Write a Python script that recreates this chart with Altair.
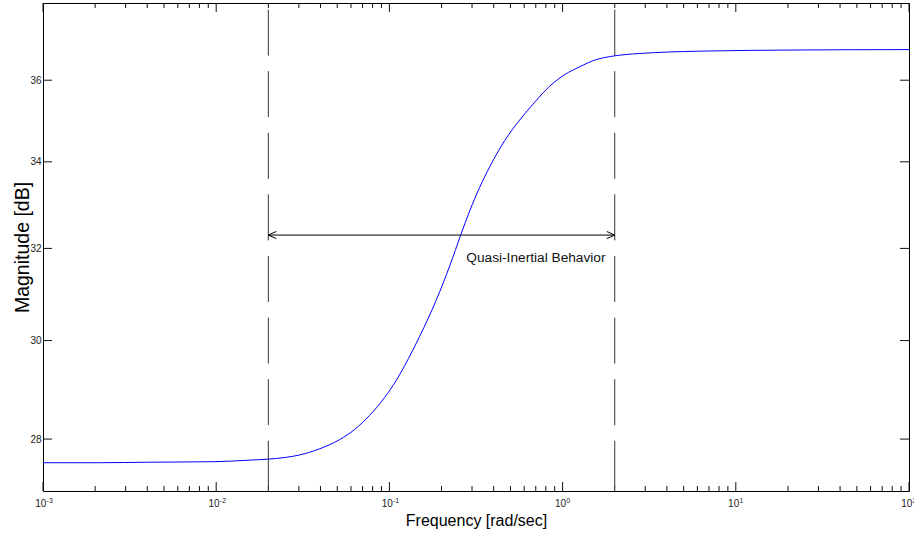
import altair as alt
import pandas as pd

# ---- data ----
freq = [0.001, 0.002125, 0.00413, 0.0098, 0.01561, 0.02009, 0.02486, 0.03034, 0.03959, 0.05164,
        0.06305, 0.07695, 0.09395, 0.1098, 0.1226, 0.1496, 0.1868, 0.2230, 0.2580, 0.2908,
        0.3322, 0.3794, 0.4632, 0.5653, 0.6901, 0.8424, 1.028, 1.255, 1.532, 1.870,
        2.283, 2.787, 6.188, 23.38, 100.0]
mag = [27.54, 27.54, 27.55, 27.56, 27.59, 27.61, 27.64, 27.69, 27.81, 27.99,
       28.19, 28.47, 28.83, 29.18, 29.48, 30.09, 30.87, 31.61, 32.30, 32.85,
       33.40, 33.88, 34.51, 35.01, 35.45, 35.85, 36.14, 36.34, 36.51, 36.60,
       36.65, 36.68, 36.74, 36.77, 36.78]

x_ticks = [0.001, 0.01, 0.1, 1, 10, 100]
x_tick_base = ["10", "10", "10", "10", "10", "10"]
x_tick_exp = ["-3", "-2", "-1", "0", "1", "2"]
x_minor = [m * 10.0 ** k for k in range(-3, 2) for m in range(2, 10)]
y_ticks = [28, 30, 32, 34, 36]

band = [0.02, 2.0]
band_level = 32.30
note = "Quasi-Inertial Behavior"
note_x = 0.278
note_y = 31.70

W, H = 866, 488
FONT = "Liberation Sans"

xs = alt.Scale(type="log", domain=[1e-3, 1e2], nice=False)
ys = alt.Scale(type="log", domain=[27, 38], nice=False)

x_axis = alt.Axis(
    labels=False, ticks=False, tickSize=0, domain=False, grid=False,
    title="Frequency [rad/sec]", titleFont=FONT, titleFontSize=16, titleFontWeight="normal",
    titleColor="#000", titleY=34.5, titleBaseline="alphabetic")
y_axis = alt.Axis(
    values=y_ticks, ticks=False, tickSize=0, domain=False, grid=False,
    labelFont=FONT, labelFontSize=10, labelColor="#222", labelPadding=2,
    title="Magnitude [dB]", titleFont=FONT, titleFontSize=19.5, titleFontWeight="normal",
    titleColor="#000", titleX=-15, titleY=H / 2, titleAngle=270, titleBaseline="alphabetic")


def X(field):
    return alt.X(field, scale=xs, axis=x_axis)


def Y(field):
    return alt.Y(field, scale=ys, axis=y_axis)


curve = alt.Chart(pd.DataFrame({"f": freq, "m": mag})).mark_line(
    color="#0000ff", strokeWidth=1, interpolate="monotone"
).encode(x=X("f:Q"), y=Y("m:Q"))

vlines = alt.Chart(pd.DataFrame({"f": band})).mark_rule(
    color="#333", strokeWidth=1, strokeDash=[46, 15.6], strokeDashOffset=55
).encode(x=X("f:Q"), y=alt.value(0), y2=alt.value(H))

arrow = alt.Chart(pd.DataFrame({"f": [band[0]], "b": [band[1]], "m": [band_level]})).mark_rule(
    color="black", strokeWidth=1
).encode(x=X("f:Q"), x2="b:Q", y=Y("m:Q"))

head_l = alt.Chart(pd.DataFrame({"f": [band[0]], "m": [band_level]})).mark_point(
    shape="M 1 -0.45 L 0 0 L 1 0.45", size=256, filled=False, stroke="black", strokeWidth=1, opacity=1
).encode(x=X("f:Q"), y=Y("m:Q"))

head_r = alt.Chart(pd.DataFrame({"f": [band[1]], "m": [band_level]})).mark_point(
    shape="M -1 -0.45 L 0 0 L -1 0.45", size=256, filled=False, stroke="black", strokeWidth=1, opacity=1
).encode(x=X("f:Q"), y=Y("m:Q"))

text = alt.Chart(pd.DataFrame({"f": [note_x], "m": [note_y], "t": [note]})).mark_text(
    align="left", baseline="alphabetic", font=FONT, fontSize=13.7, color="#111"
).encode(x=X("f:Q"), y=Y("m:Q"), text="t:N")

lab_df = pd.DataFrame({"f": x_ticks, "b": x_tick_base, "e": x_tick_exp})
lab_base = alt.Chart(lab_df).mark_text(
    align="right", baseline="alphabetic", font=FONT, fontSize=10, color="#222", dx=3.4
).encode(x=X("f:Q"), y=alt.value(H + 15.5), text="b:N")
lab_exp = alt.Chart(lab_df).mark_text(
    align="left", baseline="alphabetic", font=FONT, fontSize=7, color="#222", dx=3.6
).encode(x=X("f:Q"), y=alt.value(H + 11.5), text="e:N")


def xtick(vals, y0, y1):
    return alt.Chart(pd.DataFrame({"f": vals})).mark_rule(color="#111", strokeWidth=1).encode(
        x=X("f:Q"), y=alt.value(y0), y2=alt.value(y1))


def ytick(vals, x0, x1):
    return alt.Chart(pd.DataFrame({"m": vals})).mark_rule(color="#111", strokeWidth=1).encode(
        y=Y("m:Q"), x=alt.value(x0), x2=alt.value(x1))


ticks = [
    xtick(x_ticks, H, H - 9), xtick(x_minor, H, H - 5),
    xtick(x_ticks, 0, 9), xtick(x_minor, 0, 5),
    ytick(y_ticks, 0, 9), ytick(y_ticks, W, W - 9),
]

chart = alt.layer(curve, vlines, arrow, head_l, head_r, text, lab_base, lab_exp, *ticks).properties(
    width=W, height=H,
    padding={"left": 43, "top": 3, "right": 5, "bottom": 44},
    autosize=alt.AutoSizeParams(type="none"),
).configure_view(stroke="black", strokeWidth=1)

chart.save("out.html", embed_options={"renderer": "svg", "actions": False})
